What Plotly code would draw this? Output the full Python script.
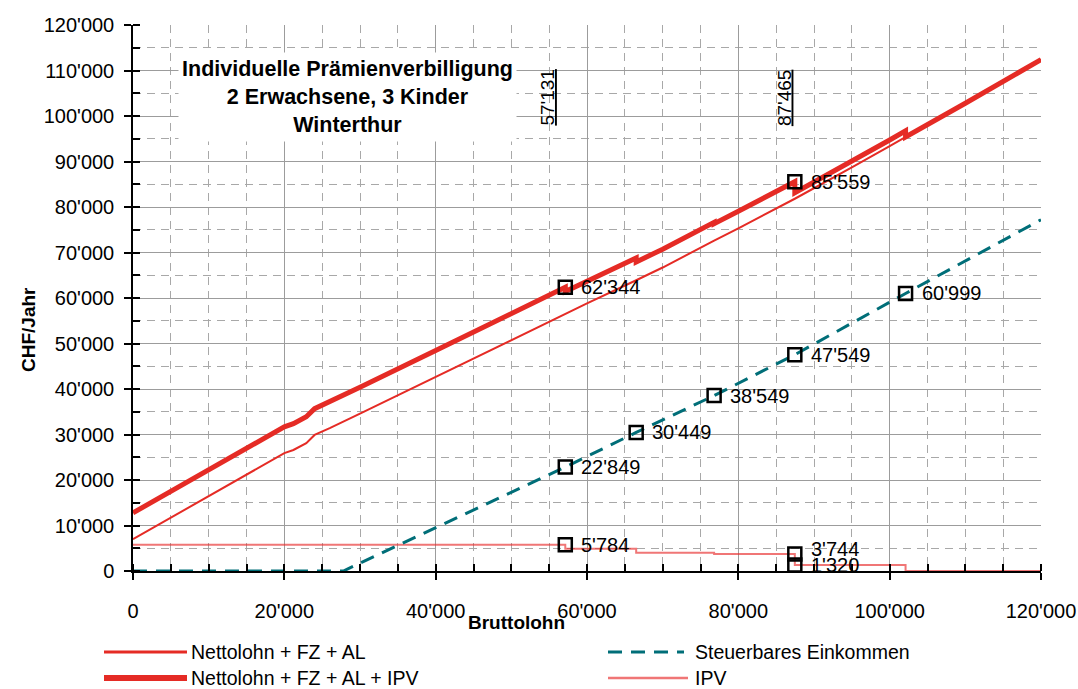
import plotly.graph_objects as go

# ---------------- data ----------------
netto_x = [0, 5000, 10000, 15000, 20000, 21200, 22900, 24000, 26000, 30000, 40000, 50000,
           57131, 60000, 66500, 70000, 76800, 80000, 87465, 90000, 95000, 100000, 102100,
           110000, 120000]
netto_y = [7000, 11700, 16400, 21150, 25900, 26600, 28100, 29900, 31400, 34600, 42700, 50800,
           56560, 58800, 63900, 66700, 72600, 75300, 81815, 84100, 88700, 93400, 95400,
           102800, 112400]

netto_ipv_x = [0, 5000, 10000, 15000, 20000, 21200, 22900, 24000, 26000, 30000, 40000, 50000,
               57131, 57131, 60000, 66500, 66500, 70000, 76800, 76800, 80000, 87465, 87465,
               90000, 95000, 100000, 102100, 102100, 110000, 120000]
netto_ipv_y = [12784, 17484, 22184, 26934, 31684, 32384, 33884, 35684, 37184, 40384, 48484, 56584,
               62344, 61440, 63680, 68780, 67930, 70730, 76630, 76344, 79044, 85559, 83135,
               85420, 90020, 94720, 96720, 95400, 102800, 112400]

steuer_x = [0, 27800, 57131, 66500, 76800, 87465, 102100, 120000]
steuer_y = [0, 0, 22849, 30449, 38549, 47549, 60999, 77200]

ipv_x = [0, 57131, 66500, 76800, 87465, 102100, 120000]
ipv_y = [5784, 4880, 4030, 3744, 1320, 0, 0]

mark_x = [57131, 87465, 57131, 66500, 76800, 87465, 102100, 57131, 87465, 87465]
mark_y = [62344, 85559, 22849, 30449, 38549, 47549, 60999, 5784, 3744, 1320]
mark_labels = ["62'344", "85'559", "22'849", "30'449", "38'549", "47'549", "60'999",
               "5'784", "3'744", "1'320"]

thr_x = [57131, 87465]
thr_labels = ["57'131", "87'465"]

x_tickvals = [0, 20000, 40000, 60000, 80000, 100000, 120000]
x_ticktext = ["0", "20'000", "40'000", "60'000", "80'000", "100'000", "120'000"]
y_tickvals = [0, 10000, 20000, 30000, 40000, 50000, 60000, 70000, 80000, 90000, 100000, 110000, 120000]
y_ticktext = ["0", "10'000", "20'000", "30'000", "40'000", "50'000", "60'000", "70'000",
              "80'000", "90'000", "100'000", "110'000", "120'000"]

series_names = ["Nettolohn + FZ + AL", "Nettolohn + FZ + AL + IPV", "Steuerbares Einkommen", "IPV"]
title_lines = ["Individuelle Prämienverbilligung", "2 Erwachsene, 3 Kinder", "Winterthur"]

# ---------------- styles ----------------
RED = "#e52b25"
TEAL = "#006e78"
IPV_COL = "rgba(232,45,45,0.65)"
FONT = "Liberation Sans, Arial, sans-serif"

fig = go.Figure()

fig.add_trace(go.Scatter(x=ipv_x, y=ipv_y, mode="lines", line=dict(color=IPV_COL, width=2, shape="hv"),
                         name=series_names[3], showlegend=False))
fig.add_trace(go.Scatter(x=steuer_x, y=steuer_y, mode="lines",
                         line=dict(color=TEAL, width=3, dash="14px,9px"),
                         name=series_names[2], showlegend=False))
fig.add_trace(go.Scatter(x=netto_x, y=netto_y, mode="lines", line=dict(color=RED, width=2),
                         name=series_names[0], showlegend=False))
fig.add_trace(go.Scatter(x=netto_ipv_x, y=netto_ipv_y, mode="lines", line=dict(color=RED, width=5),
                         name=series_names[1], showlegend=False))
fig.add_trace(go.Scatter(x=mark_x, y=mark_y, mode="markers",
                         marker=dict(symbol="square-open", size=13, color="black",
                                     line=dict(color="black", width=2.5)),
                         showlegend=False, hoverinfo="skip"))

annotations = []
for i, (mx, my, lab) in enumerate(zip(mark_x, mark_y, mark_labels)):
    annotations.append(dict(x=mx, y=my, text=lab, showarrow=False, xanchor="left", yanchor="middle",
                            xshift=14, yshift=(5 if lab == "3'744" else 0),
                            font=dict(family=FONT, size=20, color="black")))

thr_shift = [-5, 2]
for tx, tl, sh in zip(thr_x, thr_labels, thr_shift):
    annotations.append(dict(x=tx, y=104000, text="<u>" + tl + "</u>", textangle=-90, showarrow=False,
                            xanchor="right", yanchor="middle", xshift=sh,
                            font=dict(family=FONT, size=19, color="black")))

annotations.append(dict(x=28300, y=104200, text="<br>".join("<b>" + t + "</b>" for t in title_lines),
                        showarrow=False, xanchor="center", yanchor="middle", align="center",
                        bgcolor="white", width=335, height=86,
                        font=dict(family=FONT, size=21.5, color="black")))

# axis titles
annotations.append(dict(xref="paper", yref="paper", x=(516 - 133) / 908, y=(571 - 622) / 546,
                        text="<b>Bruttolohn</b>", showarrow=False, xanchor="center", yanchor="middle",
                        font=dict(family=FONT, size=19, color="black")))
annotations.append(dict(xref="paper", yref="paper", x=(28 - 133) / 908, y=(571 - 330) / 546,
                        text="<b>CHF/Jahr</b>", textangle=-90, showarrow=False, xanchor="center",
                        yanchor="middle", font=dict(family=FONT, size=19, color="black")))

# manual legend
def px_x(p):
    return (p - 133) / 908

def px_y(p):
    return (571 - p) / 546

shapes = []
leg = [
    (104, 187, 652, dict(color=RED, width=3), series_names[0], 189),
    (104, 187, 678, dict(color=RED, width=6), series_names[1], 189),
    (608, 684, 652, dict(color=TEAL, width=3, dash="14px,9px"), series_names[2], 693),
    (608, 688, 678, dict(color=IPV_COL, width=2.5), series_names[3], 693),
]
for x0, x1, yy, ln, nm, tx in leg:
    shapes.append(dict(type="line", xref="paper", yref="paper", x0=px_x(x0), x1=px_x(x1),
                       y0=px_y(yy), y1=px_y(yy), line=ln))
    annotations.append(dict(xref="paper", yref="paper", x=px_x(tx), y=px_y(yy), text=nm,
                            showarrow=False, xanchor="left", yanchor="middle",
                            font=dict(family=FONT, size=19.5, color="black")))

axis_common = dict(
    showline=True, linecolor="black", linewidth=1.5,
    ticks="outside", ticklen=7, tickcolor="black", tickwidth=1.5,
    showgrid=True, gridcolor="#9c9c9c", gridwidth=1,
    zeroline=False, automargin=False,
    tickfont=dict(family=FONT, size=20, color="black"),
)

fig.update_layout(
    width=1078, height=689,
    margin=dict(l=133, r=37, t=25, b=118),
    paper_bgcolor="white", plot_bgcolor="white",
    showlegend=False,
    annotations=annotations,
    shapes=shapes,
    xaxis=dict(range=[0, 120000], tickvals=x_tickvals, ticktext=x_ticktext, ticklabelstandoff=14,
               minor=dict(dtick=5000, tick0=0, ticks="inside", ticklen=7, tickcolor="black",
                          showgrid=True, gridcolor="#a8a8a8", griddash="8px,6px", gridwidth=1),
               **axis_common),
    yaxis=dict(range=[0, 120000], tickvals=y_tickvals, ticktext=y_ticktext, ticklabelstandoff=6,
               minor=dict(dtick=5000, tick0=0, ticks="inside", ticklen=7, tickcolor="black",
                          showgrid=True, gridcolor="#a8a8a8", griddash="8px,6px", gridwidth=1),
               **axis_common),
)

fig.write_html("out.html", config={"displayModeBar": False},
               post_script="document.body.style.margin='0';document.body.style.padding='0';")
